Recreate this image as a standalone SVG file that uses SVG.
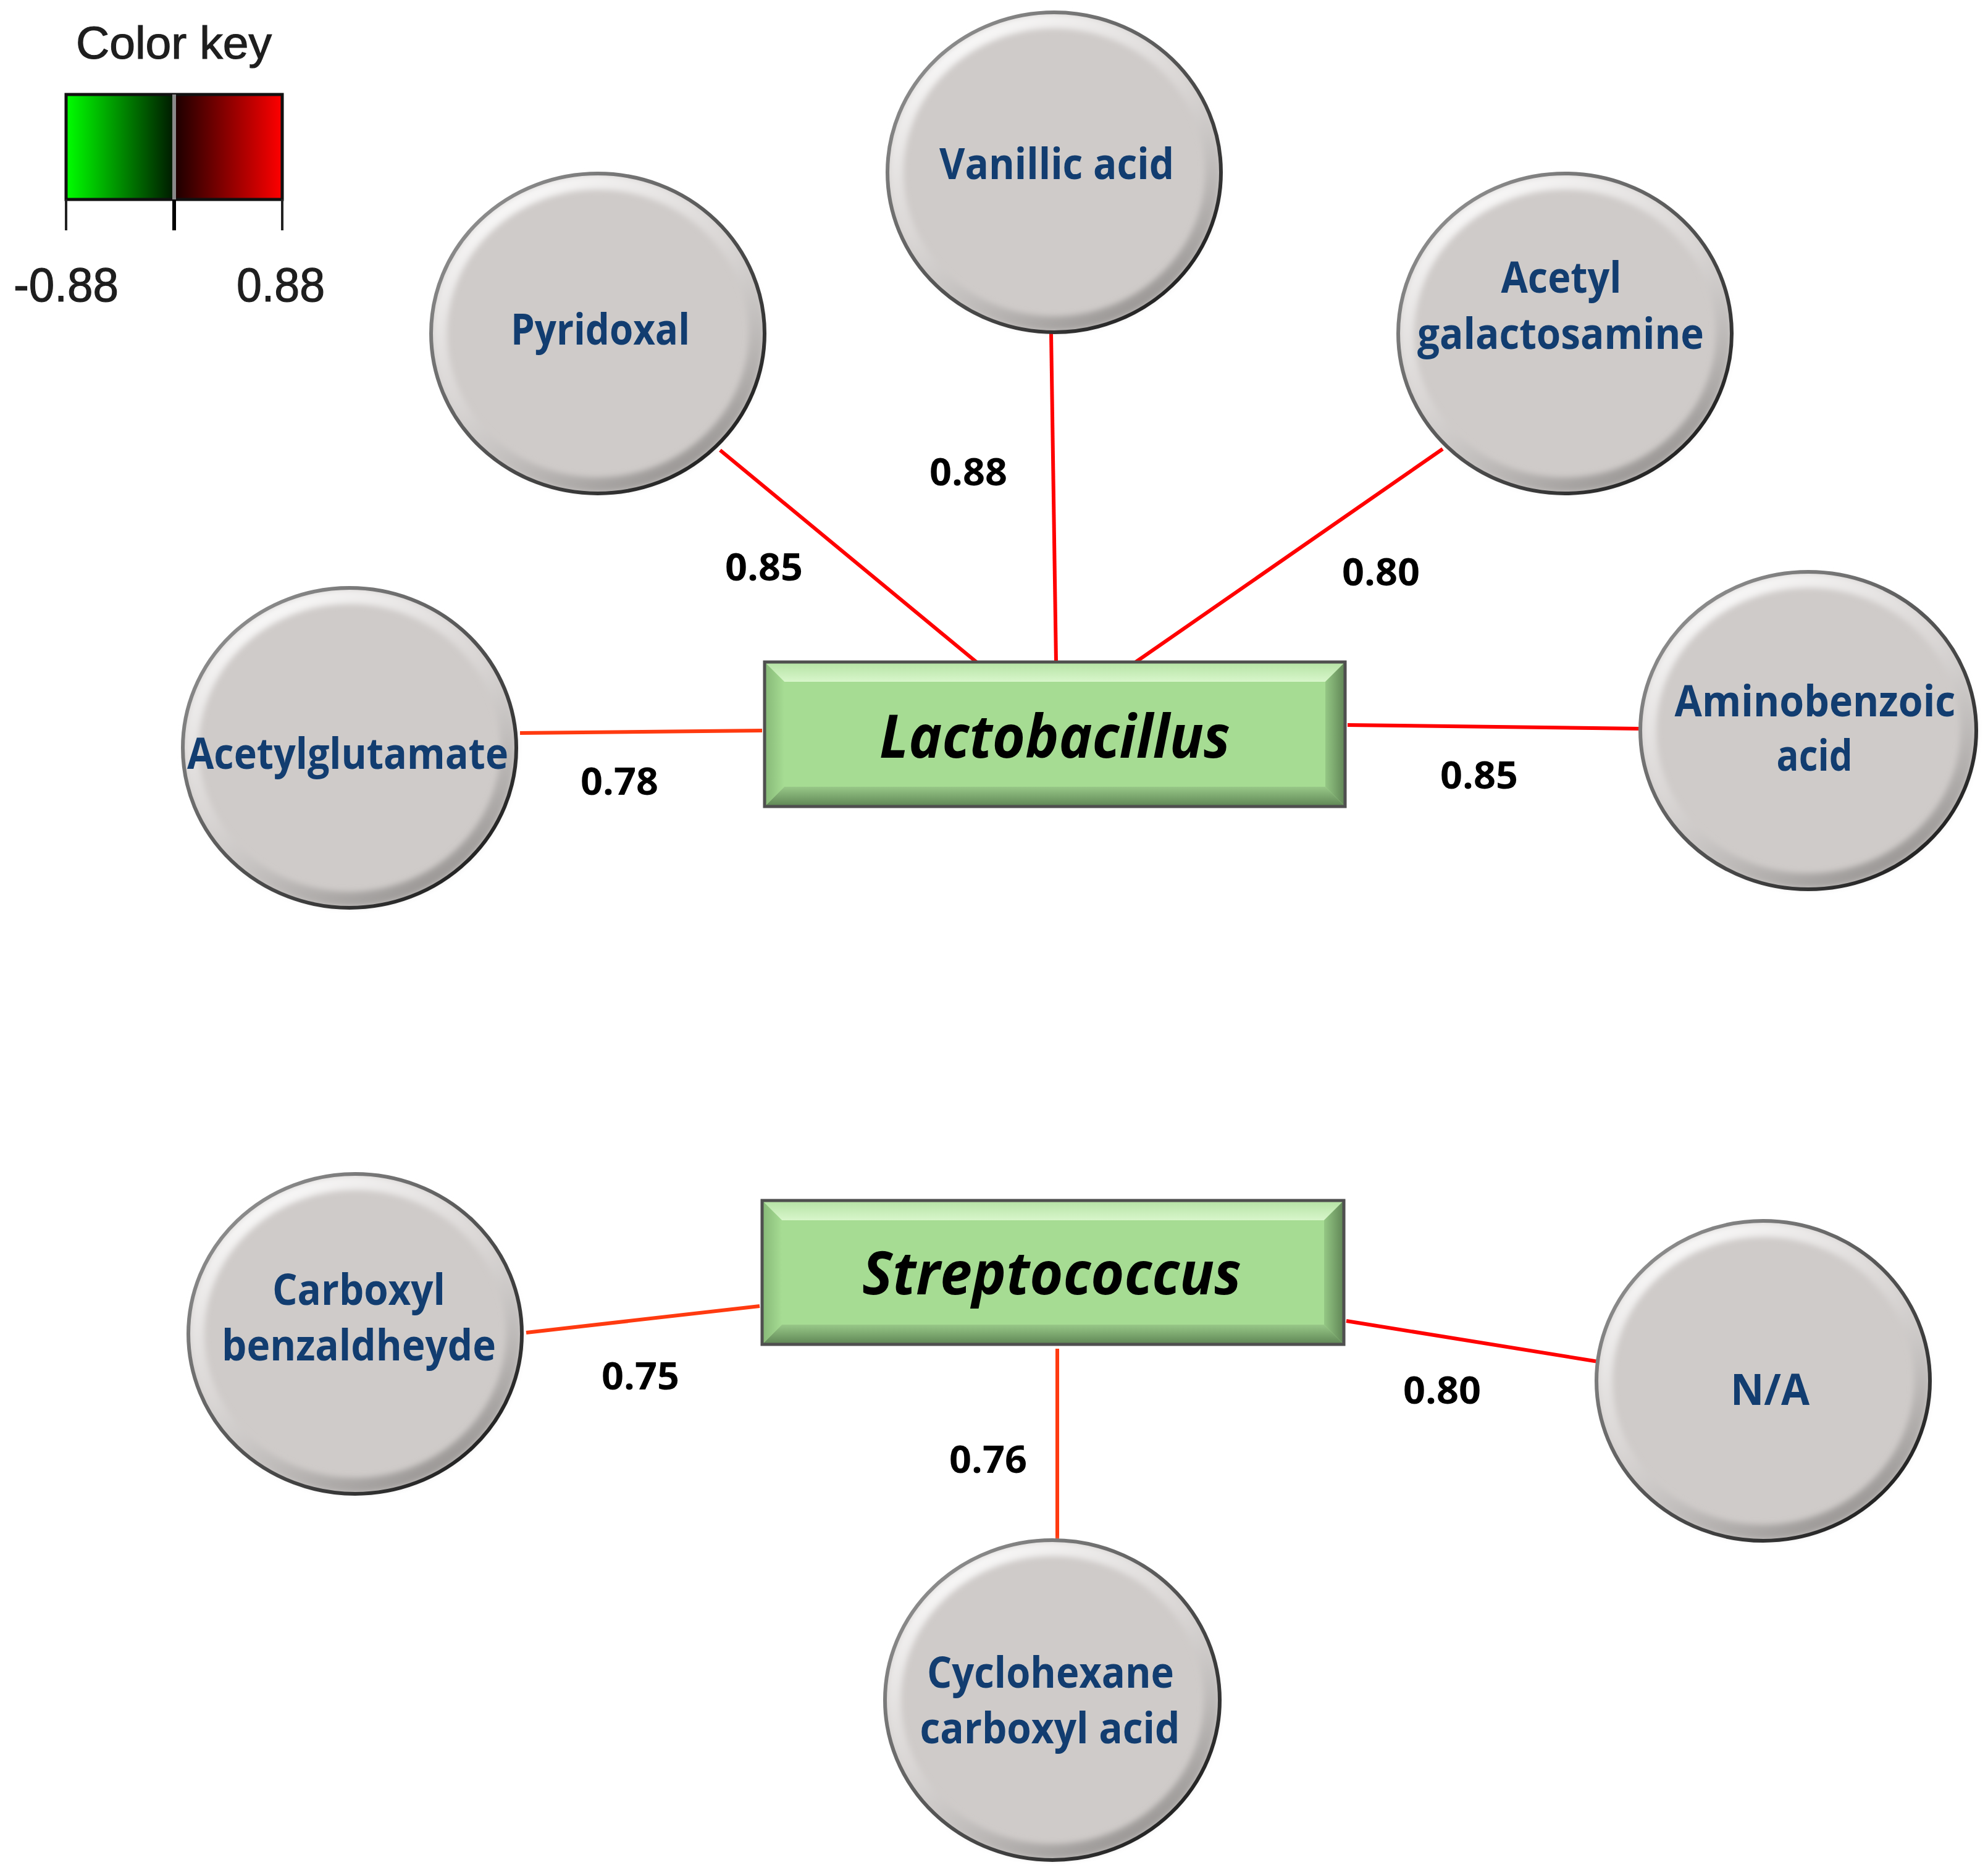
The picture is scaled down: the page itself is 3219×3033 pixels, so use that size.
<svg xmlns="http://www.w3.org/2000/svg" width="3219" height="3033" viewBox="0 0 3219 3033">
<style>
.cbase{fill:#cfcbc9}
.cbevel{fill:none;stroke:url(#bevelG);stroke-width:24;filter:url(#soft)}
.cedge{fill:none;stroke:url(#edgeG);stroke-width:6}
.lbl{font-family:"Open Sans","Liberation Sans",sans-serif;font-weight:700;font-size:69px;fill:#123d70;text-anchor:middle}
.w{font-family:"Open Sans","Liberation Sans",sans-serif;font-weight:700;font-size:60px;fill:#000;text-anchor:middle}
.genus{font-family:"Open Sans","Liberation Sans",sans-serif;font-weight:700;font-style:italic;font-size:96px;fill:#000;text-anchor:middle}
.key{font-family:"Liberation Sans",Arial,sans-serif;fill:#1e1e1e;stroke:#1e1e1e;stroke-width:1.2}
.edge{fill:none;stroke-width:6;stroke-linecap:butt}
.red{stroke:#ff0000}
.ora{stroke:#ff3a10}
.rframe{fill:none;stroke:#4f4f4f;stroke-width:5}
</style>
<defs>
<filter id="soft" x="-10%" y="-10%" width="120%" height="120%"><feGaussianBlur stdDeviation="5"/></filter>
<linearGradient id="bevelG" x1="0.2" y1="0" x2="0.8" y2="1">
<stop offset="0" stop-color="#ffffff" stop-opacity="0.95"/>
<stop offset="0.45" stop-color="#e2dfde" stop-opacity="0.6"/>
<stop offset="1" stop-color="#8c8987" stop-opacity="0.9"/>
</linearGradient>
<linearGradient id="edgeG" x1="0" y1="0" x2="1" y2="1">
<stop offset="0" stop-color="#a0a0a0"/>
<stop offset="0.5" stop-color="#555"/>
<stop offset="1" stop-color="#111"/>
</linearGradient>
<linearGradient id="kg" x1="0" y1="0" x2="1" y2="0">
<stop offset="0" stop-color="#00ff00"/>
<stop offset="1" stop-color="#001a00"/>
</linearGradient>
<linearGradient id="kr" x1="0" y1="0" x2="1" y2="0">
<stop offset="0" stop-color="#1a0000"/>
<stop offset="1" stop-color="#ff0000"/>
</linearGradient>
<linearGradient id="bvTop" x1="0" y1="0" x2="0" y2="1">
<stop offset="0" stop-color="#b4e2a3"/>
<stop offset="1" stop-color="#d8f6cb"/>
</linearGradient>
<linearGradient id="bvBot" x1="0" y1="0" x2="0" y2="1">
<stop offset="0" stop-color="#98c888"/>
<stop offset="1" stop-color="#5e8554"/>
</linearGradient>
<linearGradient id="bvLeft" x1="0" y1="0" x2="1" y2="0">
<stop offset="0" stop-color="#86b877"/>
<stop offset="1" stop-color="#a6dc93"/>
</linearGradient>
<linearGradient id="bvRight" x1="0" y1="0" x2="1" y2="0">
<stop offset="0" stop-color="#94c784"/>
<stop offset="1" stop-color="#5f8455"/>
</linearGradient>
</defs>
<rect width="3219" height="3033" fill="#ffffff"/>

<g id="color-key">
<text class="key" x="123" y="95" font-size="74" textLength="317" lengthAdjust="spacingAndGlyphs">Color key</text>
<rect x="107" y="153" width="175" height="170" fill="url(#kg)"/>
<rect x="282" y="153" width="175" height="170" fill="url(#kr)"/>
<rect x="107" y="153" width="350" height="170" fill="none" stroke="#111" stroke-width="5"/>
<line x1="282" y1="153" x2="282" y2="323" stroke="#8a8a8a" stroke-width="6"/>
<line x1="107" y1="323" x2="107" y2="373" stroke="#222" stroke-width="4"/>
<line x1="282" y1="323" x2="282" y2="373" stroke="#000" stroke-width="6"/>
<line x1="457" y1="323" x2="457" y2="373" stroke="#222" stroke-width="4"/>
<text class="key" x="22" y="488" font-size="78" textLength="170" lengthAdjust="spacingAndGlyphs">-0.88</text>
<text class="key" x="383" y="488" font-size="78" textLength="143" lengthAdjust="spacingAndGlyphs">0.88</text>
</g>

<g id="connectors">
<line class="edge red" x1="1166" y1="729" x2="1581" y2="1072"/>
<line class="edge red" x1="1702" y1="540" x2="1710" y2="1072"/>
<line class="edge red" x1="2336" y1="727" x2="1839" y2="1072"/>
<line class="edge ora" x1="842" y1="1187" x2="1234" y2="1183"/>
<line class="edge red" x1="2182" y1="1174" x2="2656" y2="1180"/>
<line class="edge ora" x1="852" y1="2158" x2="1230" y2="2115"/>
<line class="edge red" x1="2180" y1="2139" x2="2588" y2="2205"/>
<line class="edge ora" x1="1712" y1="2184" x2="1712" y2="2496"/>
<text class="w" x="1237" y="940" textLength="126" lengthAdjust="spacingAndGlyphs">0.85</text>
<text class="w" x="1568" y="786" textLength="126" lengthAdjust="spacingAndGlyphs">0.88</text>
<text class="w" x="2236" y="948" textLength="126" lengthAdjust="spacingAndGlyphs">0.80</text>
<text class="w" x="1003" y="1287" textLength="126" lengthAdjust="spacingAndGlyphs">0.78</text>
<text class="w" x="2395" y="1277" textLength="126" lengthAdjust="spacingAndGlyphs">0.85</text>
<text class="w" x="1037" y="2250" textLength="126" lengthAdjust="spacingAndGlyphs">0.75</text>
<text class="w" x="1600" y="2385" textLength="126" lengthAdjust="spacingAndGlyphs">0.76</text>
<text class="w" x="2335" y="2273" textLength="126" lengthAdjust="spacingAndGlyphs">0.80</text>
</g>

<g id="n-lactobacillus">
<rect x="1238" y="1072" width="940" height="234" fill="#a6dc93"/>
<polygon points="1238,1072 2178,1072 2146,1104 1270,1104" fill="url(#bvTop)"/>
<polygon points="1238,1306 2178,1306 2146,1274 1270,1274" fill="url(#bvBot)"/>
<polygon points="1238,1072 1270,1104 1270,1274 1238,1306" fill="url(#bvLeft)"/>
<polygon points="2178,1072 2146,1104 2146,1274 2178,1306" fill="url(#bvRight)"/>
<rect class="rframe" x="1238" y="1072" width="940" height="234"/>
<text class="genus" x="1708" y="1227" textLength="568" lengthAdjust="spacingAndGlyphs">Lactobacillus</text>
</g>

<g id="n-streptococcus">
<rect x="1234" y="1944" width="942" height="233" fill="#a6dc93"/>
<polygon points="1234,1944 2176,1944 2144,1976 1266,1976" fill="url(#bvTop)"/>
<polygon points="1234,2177 2176,2177 2144,2145 1266,2145" fill="url(#bvBot)"/>
<polygon points="1234,1944 1266,1976 1266,2145 1234,2177" fill="url(#bvLeft)"/>
<polygon points="2176,1944 2144,1976 2144,2145 2176,2177" fill="url(#bvRight)"/>
<rect class="rframe" x="1234" y="1944" width="942" height="233"/>
<text class="genus" x="1703" y="2096" textLength="614" lengthAdjust="spacingAndGlyphs">Streptococcus</text>
</g>

<g id="n-pyridoxal">
<ellipse class="cbase" cx="968" cy="540" rx="270" ry="259"/>
<ellipse class="cbevel" cx="968" cy="540" rx="256" ry="245"/>
<ellipse class="cedge" cx="968" cy="540" rx="270" ry="259"/>
<text class="lbl" x="972" y="558" textLength="290" lengthAdjust="spacingAndGlyphs">Pyridoxal</text>
</g>

<g id="n-vanillic-acid">
<ellipse class="cbase" cx="1707" cy="279" rx="270" ry="259"/>
<ellipse class="cbevel" cx="1707" cy="279" rx="256" ry="245"/>
<ellipse class="cedge" cx="1707" cy="279" rx="270" ry="259"/>
<text class="lbl" x="1711" y="290" textLength="380" lengthAdjust="spacingAndGlyphs">Vanillic acid</text>
</g>

<g id="n-acetyl-galactosamine">
<ellipse class="cbase" cx="2534" cy="540" rx="270" ry="259"/>
<ellipse class="cbevel" cx="2534" cy="540" rx="256" ry="245"/>
<ellipse class="cedge" cx="2534" cy="540" rx="270" ry="259"/>
<text class="lbl" x="2528" y="474" textLength="195" lengthAdjust="spacingAndGlyphs">Acetyl</text>
<text class="lbl" x="2527" y="565" textLength="464" lengthAdjust="spacingAndGlyphs">galactosamine</text>
</g>

<g id="n-acetylglutamate">
<ellipse class="cbase" cx="566" cy="1211" rx="270" ry="259"/>
<ellipse class="cbevel" cx="566" cy="1211" rx="256" ry="245"/>
<ellipse class="cedge" cx="566" cy="1211" rx="270" ry="259"/>
<text class="lbl" x="563" y="1245" textLength="520" lengthAdjust="spacingAndGlyphs">Acetylglutamate</text>
</g>

<g id="n-aminobenzoic-acid">
<ellipse class="cbase" cx="2928" cy="1183" rx="272" ry="257"/>
<ellipse class="cbevel" cx="2928" cy="1183" rx="258" ry="243"/>
<ellipse class="cedge" cx="2928" cy="1183" rx="272" ry="257"/>
<text class="lbl" x="2939" y="1160" textLength="455" lengthAdjust="spacingAndGlyphs">Aminobenzoic</text>
<text class="lbl" x="2938" y="1248" textLength="123" lengthAdjust="spacingAndGlyphs">acid</text>
</g>

<g id="n-carboxyl-benzaldheyde">
<ellipse class="cbase" cx="575" cy="2160" rx="270" ry="259"/>
<ellipse class="cbevel" cx="575" cy="2160" rx="256" ry="245"/>
<ellipse class="cedge" cx="575" cy="2160" rx="270" ry="259"/>
<text class="lbl" x="581" y="2113" textLength="280" lengthAdjust="spacingAndGlyphs">Carboxyl</text>
<text class="lbl" x="581" y="2203" textLength="444" lengthAdjust="spacingAndGlyphs">benzaldheyde</text>
</g>

<g id="n-na">
<ellipse class="cbase" cx="2855" cy="2236" rx="270" ry="259"/>
<ellipse class="cbevel" cx="2855" cy="2236" rx="256" ry="245"/>
<ellipse class="cedge" cx="2855" cy="2236" rx="270" ry="259"/>
<text class="lbl" x="2866" y="2275" textLength="128" lengthAdjust="spacingAndGlyphs">N/A</text>
</g>

<g id="n-cyclohexane-carboxyl-acid">
<ellipse class="cbase" cx="1704" cy="2753" rx="271" ry="259"/>
<ellipse class="cbevel" cx="1704" cy="2753" rx="257" ry="245"/>
<ellipse class="cedge" cx="1704" cy="2753" rx="271" ry="259"/>
<text class="lbl" x="1701" y="2733" textLength="400" lengthAdjust="spacingAndGlyphs">Cyclohexane</text>
<text class="lbl" x="1700" y="2823" textLength="421" lengthAdjust="spacingAndGlyphs">carboxyl acid</text>
</g>
</svg>
